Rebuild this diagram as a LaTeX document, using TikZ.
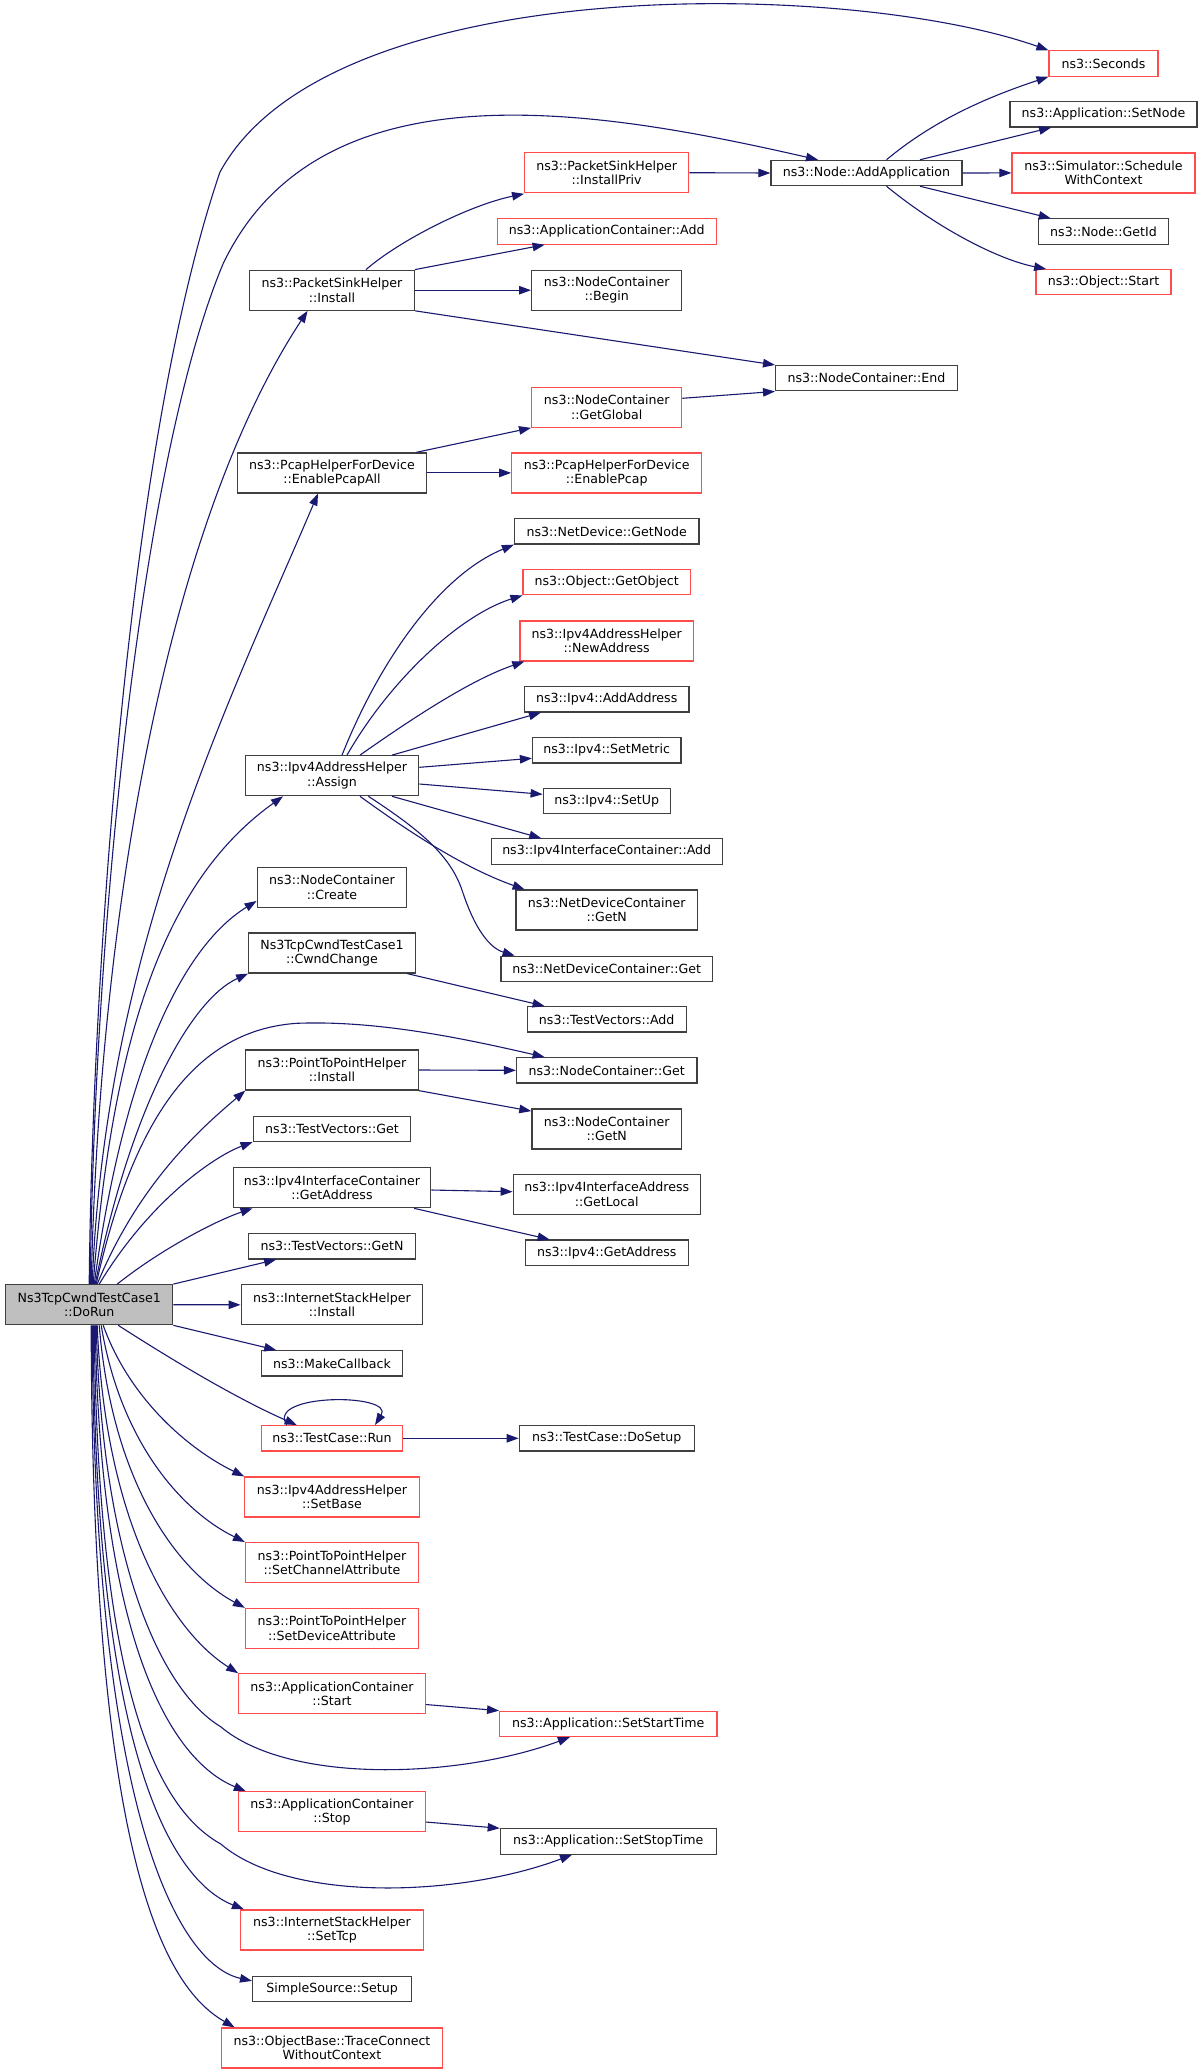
\documentclass[tikz,border=0pt]{standalone}
\usepackage{fontspec}
\setmainfont{DejaVu Sans}
\usepackage{xcolor}
\usepackage{tikz}
\usetikzlibrary{arrows.meta}
\definecolor{edgeblue}{HTML}{191970}
\definecolor{boxred}{HTML}{FF4D4D}
\definecolor{boxgray}{HTML}{404040}
\definecolor{rootfill}{HTML}{BFBFBF}

\tikzset{
	fn/.style={draw=boxgray, fill=white, line width=1.2pt, inner sep=0pt, align=center,
		font=\fontsize{12.6}{14.5}\selectfont},
	fnred/.style={fn, draw=boxred},
	oneline/.style={minimum height=25.3pt},
	twoline/.style={minimum height=40pt},
	call/.style={draw=edgeblue, line width=1.1pt, -{Triangle[length=12pt,width=8.5pt]}},
}

\begin{document}
\begin{tikzpicture}[x=1pt,y=-1pt]
		\useasboundingbox (0,0) rectangle (1203,2070);
		
		% funcion raiz
		\node[fn, fill=rootfill, twoline, minimum width=167pt] (dorun) at (89.2,1304.7) {Ns3TcpCwndTestCase1\\::DoRun};
		
		% primer nivel
		\node[fn, twoline, minimum width=164.6pt] (pshInstall) at (332,290.2) {ns3::PacketSinkHelper\\::Install};
		\node[fn, twoline, minimum width=189.7pt] (enablePcapAll) at (332,472.9) {ns3::PcapHelperForDevice\\::EnablePcapAll};
		\node[fn, twoline, minimum width=173.7pt] (assign) at (332,775.7) {ns3::Ipv4AddressHelper\\::Assign};
		\node[fn, twoline, minimum width=149.7pt] (create) at (332,887.5) {ns3::NodeContainer\\::Create};
		\node[fn, twoline, minimum width=166.6pt] (cwndChange) at (332,953) {Ns3TcpCwndTestCase1\\::CwndChange};
		\node[fn, twoline, minimum width=172.3pt] (p2pInstall) at (332,1070) {ns3::PointToPointHelper\\::Install};
		\node[fn, oneline, minimum width=157.7pt] (tvGet) at (332,1128.9) {ns3::TestVectors::Get};
		\node[fn, twoline, minimum width=197.7pt] (getAddress) at (332,1187.7) {ns3::Ipv4InterfaceContainer\\::GetAddress};
		\node[fn, oneline, minimum width=166.6pt] (tvGetN) at (332,1246.3) {ns3::TestVectors::GetN};
		\node[fn, twoline, minimum width=181.7pt] (isInstall) at (332,1304.8) {ns3::InternetStackHelper\\::Install};
		\node[fn, oneline, minimum width=140.3pt] (makeCallback) at (332,1363.3) {ns3::MakeCallback};
		\node[fnred, oneline, minimum width=141.7pt] (tcRun) at (332,1438.3) {ns3::TestCase::Run};
		\node[fnred, twoline, minimum width=174.4pt] (setBase) at (332,1497) {ns3::Ipv4AddressHelper\\::SetBase};
		\node[fnred, twoline, minimum width=173pt] (setChannelAttr) at (332,1562.6) {ns3::PointToPointHelper\\::SetChannelAttribute};
		\node[fnred, twoline, minimum width=173pt] (setDeviceAttr) at (332,1628.4) {ns3::PointToPointHelper\\::SetDeviceAttribute};
		\node[fnred, twoline, minimum width=186.6pt] (acStart) at (332,1693.8) {ns3::ApplicationContainer\\::Start};
		\node[fnred, twoline, minimum width=186.6pt] (acStop) at (332,1811.8) {ns3::ApplicationContainer\\::Stop};
		\node[fnred, twoline, minimum width=183pt] (setTcp) at (332,1929.9) {ns3::InternetStackHelper\\::SetTcp};
		\node[fn, oneline, minimum width=158.8pt] (ssSetup) at (332,1988.9) {SimpleSource::Setup};
		\node[fnred, twoline, minimum width=221.5pt] (traceConnect) at (332,2048) {ns3::ObjectBase::TraceConnect\\WithoutContext};
		
		% segundo nivel
		\node[fnred, twoline, minimum width=164.1pt] (installPriv) at (606.7,172.7) {ns3::PacketSinkHelper\\::InstallPriv};
		\node[fnred, oneline, minimum width=219pt] (acAdd) at (606.7,231.5) {ns3::ApplicationContainer::Add};
		\node[fn, twoline, minimum width=150.2pt] (ncBegin) at (606.7,290.2) {ns3::NodeContainer\\::Begin};
		\node[fnred, twoline, minimum width=150.2pt] (ncGetGlobal) at (606.7,407.3) {ns3::NodeContainer\\::GetGlobal};
		\node[fnred, twoline, minimum width=189.9pt] (enablePcap) at (606.7,472.9) {ns3::PcapHelperForDevice\\::EnablePcap};
		\node[fn, oneline, minimum width=184.4pt] (ndGetNode) at (606.7,531.4) {ns3::NetDevice::GetNode};
		\node[fnred, oneline, minimum width=167.3pt] (getObject) at (606.7,582.2) {ns3::Object::GetObject};
		\node[fnred, twoline, minimum width=173.6pt] (newAddress) at (606.7,640.9) {ns3::Ipv4AddressHelper\\::NewAddress};
		\node[fn, oneline, minimum width=164.4pt] (addAddress) at (606.7,699.3) {ns3::Ipv4::AddAddress};
		\node[fn, oneline, minimum width=148.4pt] (setMetric) at (606.7,750.4) {ns3::Ipv4::SetMetric};
		\node[fn, oneline, minimum width=127pt] (setUp) at (606.7,801) {ns3::Ipv4::SetUp};
		\node[fn, oneline, minimum width=231pt] (icAdd) at (606.7,851.5) {ns3::Ipv4InterfaceContainer::Add};
		\node[fn, twoline, minimum width=181.6pt] (ndcGetN) at (606.7,910) {ns3::NetDeviceContainer\\::GetN};
		\node[fn, oneline, minimum width=211.6pt] (ndcGet) at (606.7,968.9) {ns3::NetDeviceContainer::Get};
		\node[fn, oneline, minimum width=159pt] (tvAdd) at (606.7,1019.3) {ns3::TestVectors::Add};
		\node[fn, oneline, minimum width=180.4pt] (ncGet) at (606.7,1070.3) {ns3::NodeContainer::Get};
		\node[fn, twoline, minimum width=149.6pt] (ncGetN) at (606.7,1129) {ns3::NodeContainer\\::GetN};
		\node[fn, twoline, minimum width=187pt] (getLocal) at (606.7,1194.3) {ns3::Ipv4InterfaceAddress\\::GetLocal};
		\node[fn, oneline, minimum width=163pt] (ipv4GetAddress) at (606.7,1252.7) {ns3::Ipv4::GetAddress};
		\node[fn, oneline, minimum width=175pt] (doSetup) at (606.7,1438.3) {ns3::TestCase::DoSetup};
		\node[fnred, oneline, minimum width=217.3pt] (setStartTime) at (608.3,1723.9) {ns3::Application::SetStartTime};
		\node[fn, oneline, minimum width=216pt] (setStopTime) at (608.3,1841.5) {ns3::Application::SetStopTime};
		
		% tercer y cuarto nivel
		\node[fn, oneline, minimum width=191pt] (addApplication) at (866.5,173) {ns3::Node::AddApplication};
		\node[fn, oneline, minimum width=181.8pt] (ncEnd) at (866.5,378.2) {ns3::NodeContainer::End};
		\node[fnred, oneline, minimum width=109pt] (seconds) at (1103.5,63.5) {ns3::Seconds};
		\node[fn, oneline, minimum width=187pt] (setNode) at (1103.5,114.3) {ns3::Application::SetNode};
		\node[fnred, twoline, minimum width=183pt] (scheduleWithContext) at (1103.5,172.9) {ns3::Simulator::Schedule\\WithContext};
		\node[fn, oneline, minimum width=129.7pt] (getId) at (1103.5,231.5) {ns3::Node::GetId};
		\node[fnred, oneline, minimum width=135pt] (objectStart) at (1103.5,282.2) {ns3::Object::Start};
		
		% llamadas horizontales
		\foreach \a/\b in {dorun/isInstall, pshInstall/ncBegin, installPriv/addApplication,
			enablePcapAll/enablePcap, addApplication/scheduleWithContext, p2pInstall/ncGet, tcRun/doSetup} {
			\draw[call] (\a.east) -- (\b.west);
		}
		
		% llamadas desde DoRun hacia arriba
		\draw[call] (dorun.north) .. controls (92,1000) and (125,450) .. (220,172)
			.. controls (330,-30) and (850,-20) .. (seconds.north west);
		\draw[call] ([xshift=1pt]dorun.north) .. controls (95,900) and (145,450) .. (223,264)
			.. controls (320,60) and (600,110) .. ([xshift=-48.5pt]addApplication.north);
		\draw[call] ([xshift=2pt]dorun.north) .. controls (100,900) and (170,520) .. ([xshift=-24.4pt]pshInstall.south);
		\draw[call] ([xshift=3pt]dorun.north) .. controls (105,950) and (230,700) .. ([xshift=-14pt]enablePcapAll.south);
		\draw[call] ([xshift=4pt]dorun.north) .. controls (115,1000) and (180,870) .. ([xshift=-49pt]assign.south);
		\draw[call] ([xshift=5pt]dorun.north) .. controls (125,1060) and (185,945) .. ([yshift=-13.5pt]create.west);
		\draw[call] ([xshift=6pt]dorun.north) .. controls (130,1110) and (190,1000) .. (cwndChange.south west);
		\draw[call] ([xshift=7pt]dorun.north) .. controls (135,1110) and (200,1030) .. (296.7,1023.3)
			.. controls (380,1020) and (470,1040) .. ([xshift=28.7pt]ncGet.north west);
		\draw[call] ([xshift=8pt]dorun.north) .. controls (140,1180) and (205,1125) .. (p2pInstall.south west);
		\draw[call] ([xshift=10pt]dorun.north) .. controls (150,1200) and (215,1156) .. (tvGet.south west);
		\draw[call] ([xshift=28pt]dorun.north) .. controls (160,1250) and (215,1221) .. ([xshift=20pt]getAddress.south west);
		\draw[call] (dorun.north east) -- ([xshift=28pt]tvGetN.south west);
		
		% llamadas desde DoRun hacia abajo
		\draw[call] (dorun.south east) -- ([xshift=15pt]makeCallback.north west);
		\draw[call] ([xshift=29pt]dorun.south) .. controls (180,1365) and (240,1400) .. ([xshift=-35.2pt]tcRun.north);
		\draw[call] ([xshift=-45.2pt]tcRun.north) .. controls (265,1393) and (395,1393) .. ([xshift=43pt]tcRun.north);
		\draw[call] ([xshift=14pt]dorun.south) .. controls (130,1400) and (190,1450) .. (setBase.north west);
		\draw[call] ([xshift=12pt]dorun.south) .. controls (120,1440) and (180,1510) .. (setChannelAttr.north west);
		\draw[call] ([xshift=10pt]dorun.south) .. controls (112,1480) and (175,1570) .. (setDeviceAttr.north west);
		\draw[call] ([xshift=8pt]dorun.south) .. controls (105,1520) and (170,1630) .. (acStart.north west);
		\draw[call] ([xshift=7pt]dorun.south) .. controls (102,1560) and (160,1690) .. (220.8,1726.8)
			.. controls (290,1785) and (460,1778) .. ([xshift=-38.4pt]setStartTime.south);
		\draw[call] ([xshift=6pt]dorun.south) .. controls (100,1640) and (170,1760) .. ([xshift=7.7pt]acStop.north west);
		\draw[call] ([xshift=5pt]dorun.south) .. controls (98,1700) and (160,1810) .. (220.8,1844)
			.. controls (290,1903) and (460,1897) .. ([xshift=-36.3pt]setStopTime.south);
		\draw[call] ([xshift=4pt]dorun.south) .. controls (95,1750) and (170,1880) .. ([xshift=4pt]setTcp.north west);
		\draw[call] ([xshift=3pt]dorun.south) .. controls (94,1820) and (180,1965) .. ([yshift=8pt]ssSetup.west);
		\draw[call] ([xshift=2pt]dorun.south) .. controls (92,1880) and (170,1990) .. ([xshift=14pt]traceConnect.north west);
		
		% llamadas de segundo nivel
		\draw[call] ([xshift=34pt]pshInstall.north) .. controls (400,240) and (470,205) .. ([yshift=-0.5pt]installPriv.south west);
		\draw[call] (pshInstall.north east) -- ([xshift=48pt]acAdd.south west);
		\draw[call] (pshInstall.south east) -- (ncEnd.north west);
		\draw[call] ([yshift=9pt]ncGetGlobal.east) -- (ncEnd.south west);
		\draw[call] ([xshift=-11pt]enablePcapAll.north east) -- (ncGetGlobal.south west);
		\draw[call] ([xshift=20pt]addApplication.north) .. controls (940,115) and (1000,93) .. (seconds.south west);
		\draw[call] ([xshift=53.5pt]addApplication.north) -- ([xshift=41.7pt]setNode.south west);
		\draw[call] ([xshift=53.5pt]addApplication.south) -- ([xshift=12.7pt]getId.north west);
		\draw[call] ([xshift=20pt]addApplication.south) .. controls (940,230) and (1000,260) .. ([xshift=10.7pt]objectStart.north west);
		\draw[call] ([xshift=10pt]assign.north) .. controls (380,660) and (440,575) .. (ndGetNode.south west);
		\draw[call] ([xshift=15pt]assign.north) .. controls (390,680) and (460,615) .. (getObject.south west);
		\draw[call] ([xshift=28pt]assign.north) .. controls (410,720) and (470,680) .. ([xshift=5pt]newAddress.south west);
		\draw[call] ([xshift=60pt]assign.north) -- ([xshift=17pt]addAddress.south west);
		\draw[call] ([yshift=8.4pt]assign.east) -- ([yshift=-7.9pt]setMetric.west);
		\draw[call] ([yshift=-8.3pt]assign.east) -- ([yshift=6.7pt]setUp.west);
		\draw[call] ([xshift=60pt]assign.south) -- ([xshift=50.7pt]icAdd.north west);
		\draw[call] ([xshift=28pt]assign.south) .. controls (420,840) and (470,870) .. ([xshift=9.3pt]ndcGetN.north west);
		\draw[call] ([xshift=36.4pt]assign.south) .. controls (420,830) and (450,855) .. (462,890)
			.. controls (475,930) and (490,948) .. ([xshift=14.3pt]ndcGet.north west);
		\draw[call] ([xshift=-8.6pt]cwndChange.south east) -- ([xshift=18pt]tvAdd.north west);
		\draw[call] (p2pInstall.south east) -- ([yshift=-2.7pt]ncGetN.north west);
		\draw[call] ([yshift=-2.3pt]getAddress.east) -- ([yshift=2.6pt]getLocal.west);
		\draw[call] ([xshift=-17.4pt]getAddress.south east) -- ([xshift=25pt]ipv4GetAddress.north west);
		\draw[call] ([yshift=-10.7pt]acStart.east) -- (setStartTime.north west);
		\draw[call] ([yshift=-10.2pt]acStop.east) -- (setStopTime.north west);
	\end{tikzpicture}
\end{document}
